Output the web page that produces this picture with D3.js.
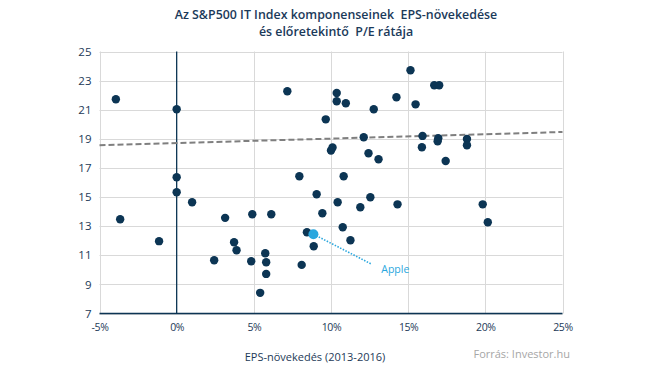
<!DOCTYPE html>
<html><head><meta charset="utf-8">
<script src="https://cdn.jsdelivr.net/npm/d3@7"></script>
<style>
html,body{margin:0;padding:0;background:#fff;}
svg{display:block;font-family:"Open Sans",sans-serif;}
</style></head>
<body><svg id="c" width="645" height="382"></svg>
<script>
const titleLines = ["Az S&P500 IT Index komponenseinek  EPS-növekedése", "és előretekintő  P/E rátája"];
const xTicks = [-5, 0, 5, 10, 15, 20, 25];
const yTicks = [7, 9, 11, 13, 15, 17, 19, 21, 23, 25];
const xTitle = "EPS-növekedés (2013-2016)";
const source = "Forrás: Investor.hu";
// EPS growth (%) and forward P/E of the components
const growth = [-3.94, -3.66, -1.14, 0, 0, 0, 1.0, 2.43, 3.14, 3.72, 3.88, 4.83, 4.9, 5.41, 5.74, 5.8, 5.8, 6.13,
  7.17, 7.95, 8.1, 8.44, 8.88, 9.66, 9.07, 9.44, 10.0, 10.1, 10.37, 10.37, 10.96, 10.82, 10.43, 10.76, 11.26,
  12.12, 12.43, 13.08, 12.77, 11.9, 12.55, 14.24, 14.31, 15.15, 15.48, 15.93, 15.89, 16.69, 17.01, 16.95, 16.91,
  17.43, 18.81, 18.81, 19.83, 20.16];
const pe = [21.72, 13.48, 11.97, 21.03, 16.36, 15.33, 14.64, 10.66, 13.57, 11.9, 11.35, 10.59, 13.82, 8.42, 11.14, 10.52, 9.72, 13.82,
  22.27, 16.43, 10.34, 12.58, 11.62, 20.34, 15.19, 13.89, 18.2, 18.4, 22.15, 21.58, 21.44, 16.43, 14.64, 12.93, 12.03,
  19.11, 18.01, 17.6, 21.03, 14.3, 14.99, 21.86, 14.5, 23.71, 21.37, 19.2, 18.42, 22.68, 22.68, 19.04, 18.83,
  17.48, 18.99, 18.56, 14.5, 13.27];
const appleName = "Apple";
const appleGrowth = 8.86, applePE = 12.45;
const trendX = [-5, 25];
const trendY = [18.56, 19.47];

const svg = d3.select("#c");
const x = d3.scaleLinear().domain([-5, 25]).range([99.5, 562.5]);
const y = d3.scaleLinear().domain([7, 25]).range([313.5, 51.5]);
const navy = "#0c3554", textC = "#1d3a57";

// grid
svg.append("g").selectAll("line").data(yTicks).join("line")
  .attr("x1", x(-5)).attr("x2", x(25)).attr("y1", d => Math.round(y(d)) + 0.5).attr("y2", d => Math.round(y(d)) + 0.5)
  .attr("stroke", "#d9d9d9").attr("stroke-width", 1);
svg.append("g").selectAll("line").data(xTicks.filter(d => d !== 0)).join("line")
  .attr("y1", y(7)).attr("y2", y(25)).attr("x1", d => Math.round(x(d)) + 0.5).attr("x2", d => Math.round(x(d)) + 0.5)
  .attr("stroke", "#d9d9d9").attr("stroke-width", 1);

// axes
const yAxis = d3.axisLeft(y).tickValues(yTicks).tickSize(0).tickPadding(8).tickFormat(d3.format("d"));
svg.append("g").attr("transform", `translate(${x(-5)},0)`).call(yAxis)
  .call(g => g.select(".domain").remove())
  .selectAll("text").attr("font-size", 11.5).attr("fill", textC).attr("font-family", "Open Sans");
const xAxis = d3.axisBottom(x).tickValues(xTicks).tickSize(0).tickPadding(10).tickFormat(d => d + "%");
svg.append("g").attr("transform", `translate(0,${y(7)})`).call(xAxis)
  .call(g => g.select(".domain").remove())
  .selectAll("text").attr("font-size", 10.5).attr("fill", textC).attr("font-family", "Open Sans").attr("letter-spacing", -0.4);

svg.append("line").attr("x1", x(-5)).attr("x2", x(25)).attr("y1", y(7)).attr("y2", y(7)).attr("stroke", navy).attr("stroke-width", 1.6);
svg.append("line").attr("x1", x(0)).attr("x2", x(0)).attr("y1", y(7)).attr("y2", y(25)).attr("stroke", navy).attr("stroke-width", 1.3);

// trend
svg.append("line").attr("x1", x(trendX[0])).attr("x2", x(trendX[1])).attr("y1", y(trendY[0])).attr("y2", y(trendY[1]))
  .attr("stroke", "#7f7f7f").attr("stroke-width", 2).attr("stroke-dasharray", "6,3");

// points
svg.append("g").selectAll("circle").data(growth.map((g, i) => [g, pe[i]])).join("circle")
  .attr("cx", d => x(d[0])).attr("cy", d => y(d[1])).attr("r", 4.2).attr("fill", navy);

// Apple
const lx = x(appleGrowth + 3.75), ly = y(applePE - 2.05);
svg.append("line").attr("x1", x(appleGrowth)).attr("y1", y(applePE)).attr("x2", lx).attr("y2", ly)
  .attr("stroke", "#2aa7de").attr("stroke-width", 1.6).attr("stroke-dasharray", "1.5,1.5");
svg.append("circle").attr("cx", x(appleGrowth)).attr("cy", y(applePE)).attr("r", 5).attr("fill", "#2aa7de");
svg.append("text").attr("x", lx + 10).attr("y", ly + 9).text(appleName)
  .attr("font-size", 10.5).attr("fill", "#2aa7de");

// title
svg.append("g").selectAll("text").data(titleLines).join("text")
  .attr("x", 336).attr("y", (d, i) => 19 + i * 17).attr("text-anchor", "middle")
  .style("white-space", "pre")
  .attr("font-size", 12.4).attr("font-weight", 600).attr("fill", "#1b3a5a").text(d => d);

svg.append("text").attr("x", 315).attr("y", 361).attr("text-anchor", "middle")
  .attr("font-size", 11).attr("fill", textC).text(xTitle);
svg.append("text").attr("x", 570).attr("y", 358).attr("text-anchor", "end")
  .attr("font-size", 11).attr("fill", "#a6a6a6").text(source);
</script></body></html>
